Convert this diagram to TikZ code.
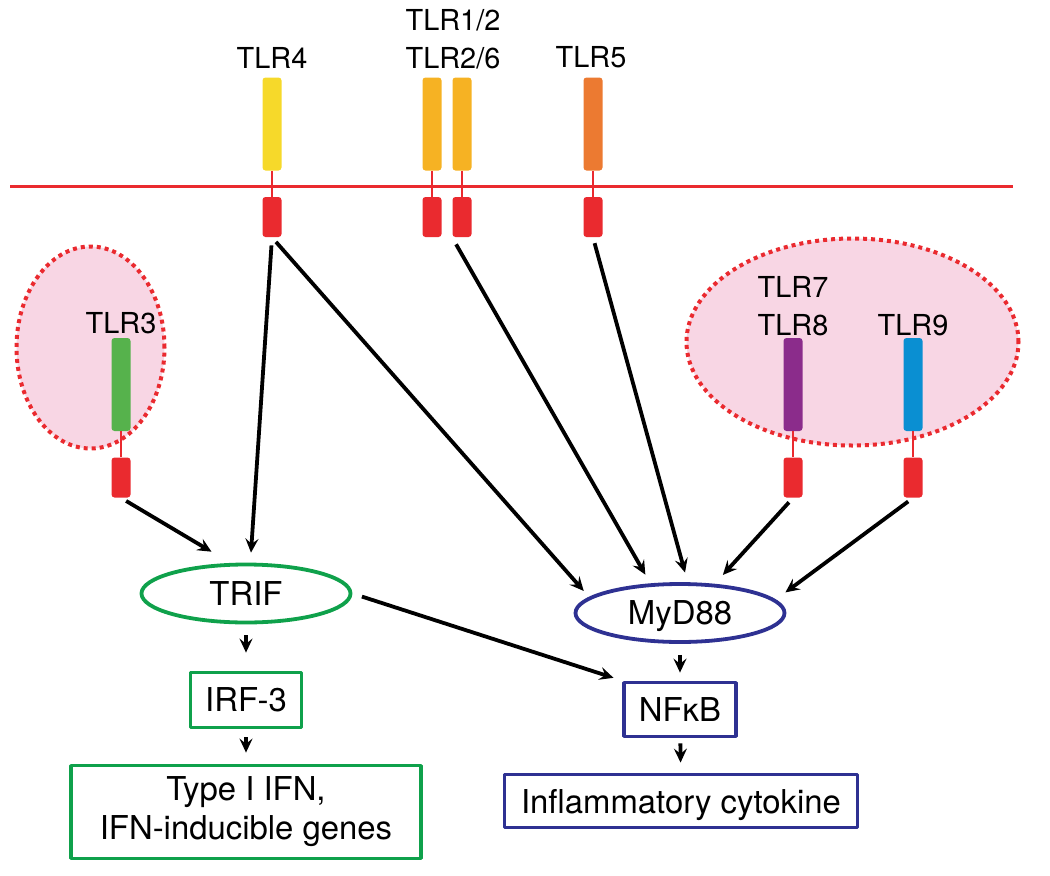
\documentclass[tikz,border=0pt]{standalone}
\usepackage{fontspec}
\setmainfont{TeX Gyre Heros}
\usepackage{tikz}
\usetikzlibrary{arrows.meta,shapes}

\definecolor{tlryellow}{HTML}{F6D92A}
\definecolor{tlrorange}{HTML}{F6B223}
\definecolor{tlrfive}{HTML}{EC7A31}
\definecolor{tlrgreen}{HTML}{56B24C}
\definecolor{tlrpurple}{HTML}{8B2C8B}
\definecolor{tlrblue}{HTML}{0A8FD2}
\definecolor{tirred}{HTML}{EA2A2F}
\definecolor{endopink}{HTML}{F8D6E4}
\definecolor{trifgreen}{HTML}{0FA14B}
\definecolor{mydblue}{HTML}{2E3192}

\tikzset{
  ecto/.style={rectangle, rounded corners=1.5bp, minimum width=9.5bp, minimum height=46.5bp, inner sep=0pt},
  tir/.style={rectangle, rounded corners=1.5bp, fill=tirred, minimum width=9.5bp, minimum height=20bp, inner sep=0pt},
  tlrname/.style={font=\fontsize{14.5}{17}\selectfont, inner sep=0pt},
  tether/.style={draw=tirred, line width=1bp},
  endosome/.style={ellipse, fill=endopink, draw=tirred, line width=2bp, dash pattern=on 2bp off 2bp, inner sep=0pt},
  adaptor/.style={ellipse, line width=1.9bp, minimum width=104.5bp, minimum height=29bp, inner sep=0pt, text depth=0pt, font=\fontsize{16.5}{19}\selectfont},
  product/.style={rectangle, line width=1.9bp, inner sep=0pt, align=center, font=\fontsize{16.5}{19.5}\selectfont},
  signal/.style={->, line width=1.9bp},
}

\begin{document}
\begin{tikzpicture}[x=0.5bp,y=-0.5bp,>={Stealth[length=7bp,width=6.5bp,inset=2.6bp]},line join=bevel]
\useasboundingbox (0,0) rectangle (1050,876);
%%
\coordinate (memL) at (10,186.5);
\coordinate (memR) at (1013,186.5);
\draw [draw=tirred, line width=1.7bp] (memL) -- (memR);
%% endosomes
\node (endoL) at (90.5,347.5) [endosome, minimum width=74bp, minimum height=101bp] {};
\node (endoR) at (852.5,342) [endosome, minimum width=166bp, minimum height=103.5bp] {};
%% surface receptors
\node (tlr4) at (272,124) [ecto, fill=tlryellow] {};
\node (tlr1) at (432,124) [ecto, fill=tlrorange] {};
\node (tlr6) at (462,124) [ecto, fill=tlrorange] {};
\node (tlr5) at (593,124) [ecto, fill=tlrfive] {};
\node (tir4) at (272,217) [tir] {};
\node (tir1) at (432,217) [tir] {};
\node (tir6) at (462,217) [tir] {};
\node (tir5) at (593,217) [tir] {};
\draw [tether] (tlr4) -- (tir4);
\draw [tether] (tlr1) -- (tir1);
\draw [tether] (tlr6) -- (tir6);
\draw [tether] (tlr5) -- (tir5);
\node (tlr4name) at (272,58) [tlrname] {TLR4};
\node (tlr12name) at (453,20.5) [tlrname] {TLR1/2};
\node (tlr26name) at (453,58) [tlrname] {TLR2/6};
\node (tlr5name) at (591,57) [tlrname] {TLR5};
%% endosomal receptors
\node (tlr3) at (121,384.5) [ecto, fill=tlrgreen] {};
\node (tlr7) at (793,384.5) [ecto, fill=tlrpurple] {};
\node (tlr9) at (913,384.5) [ecto, fill=tlrblue] {};
\node (tir3) at (121,477.5) [tir] {};
\node (tir7) at (793,477.5) [tir] {};
\node (tir9) at (913,477.5) [tir] {};
\draw [tether] (tlr3) -- (tir3);
\draw [tether] (tlr7) -- (tir7);
\draw [tether] (tlr9) -- (tir9);
\node (tlr3name) at (121,323) [tlrname] {TLR3};
\node (tlr7name) at (793,287) [tlrname] {TLR7};
\node (tlr8name) at (793,325) [tlrname] {TLR8};
\node (tlr9name) at (913,325) [tlrname] {TLR9};
%% adaptors and outputs
\node (trif) at (246,593.5) [adaptor, draw=trifgreen] {TRIF};
\node (myd88) at (680,613) [adaptor, draw=mydblue] {MyD88};
\node (irf3) at (246,700) [product, draw=trifgreen, minimum width=55.5bp, minimum height=27.5bp] {IRF-3};
\node (nfkb) at (680,709.5) [product, draw=mydblue, minimum width=56bp, minimum height=27bp] {NFκB};
\node (ifn) at (246,812) [product, draw=trifgreen, minimum width=175bp, minimum height=46.5bp] {Type I IFN,\\IFN-inducible genes};
\node (cyto) at (681,801) [product, draw=mydblue, minimum width=176.5bp, minimum height=26.5bp, text depth=0pt] {Inflammatory cytokine};
%%
\draw [signal, shorten <=4bp, shorten >=5bp] (tir4.south) -- (trif.82);
\draw [signal, shorten <=3bp, shorten >=4bp] (tir4.south) -- (myd88.170);
\draw [signal, shorten <=4bp, shorten >=5bp] (tir6.south west) -- (myd88.135);
\draw [signal, shorten <=3bp, shorten >=5bp] (tir5.south) -- (myd88.76);
\draw [signal, shorten <=3bp, shorten >=11bp] (tir3.south) -- (trif.117);
\draw [signal, shorten <=3bp, shorten >=6bp] (tir7.south) -- (myd88.40);
\draw [signal, shorten <=3bp, shorten >=6bp] (tir9.south) -- (myd88.8);
\draw [signal, shorten <=5bp, shorten >=4.5bp] (trif.east) -- (nfkb.north west);
\draw [signal, shorten <=5.5bp, shorten >=9bp] (trif) -- (irf3);
\draw [signal, shorten <=5.5bp, shorten >=4bp] (myd88) -- (nfkb);
\draw [signal, shorten <=4bp, shorten >=5.5bp] (irf3) -- (ifn);
\draw [signal, shorten <=2.5bp, shorten >=5bp] (nfkb) -- (cyto);
%
\end{tikzpicture}
\end{document}
